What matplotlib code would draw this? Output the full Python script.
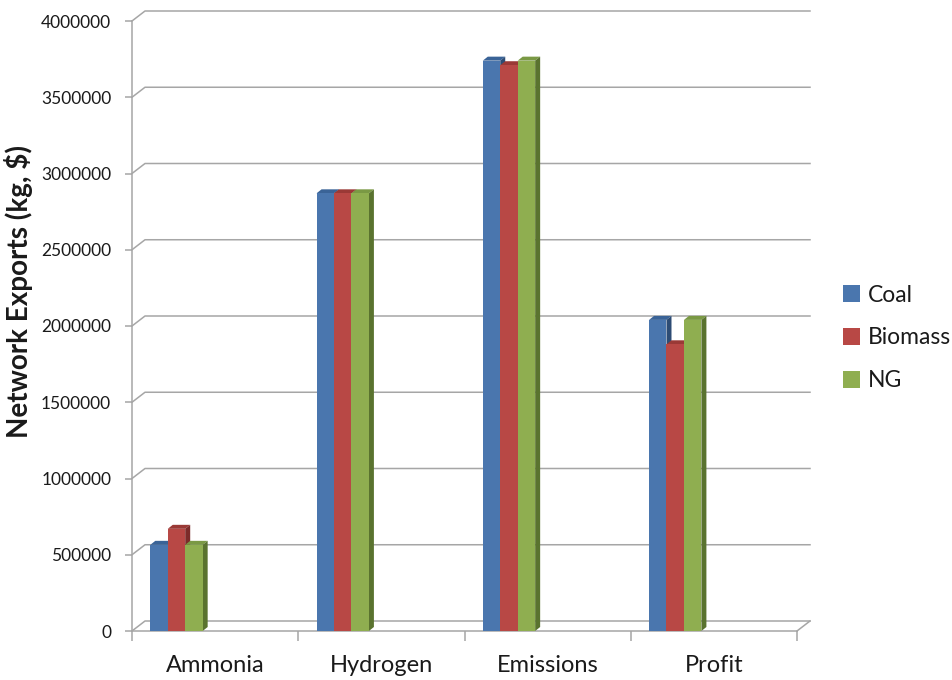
import matplotlib
matplotlib.use("Agg")
import matplotlib.pyplot as plt
from matplotlib.patches import Polygon

plt.rcParams['font.family'] = ['Lato', 'DejaVu Sans']

categories = ["Ammonia", "Hydrogen", "Emissions", "Profit"]
series_names = ["Coal", "Biomass", "NG"]
coal = [565000, 2870000, 3740000, 2040000]
biomass = [670000, 2870000, 3710000, 1880000]
ng = [565000, 2870000, 3740000, 2040000]
y_ticks = [0, 500000, 1000000, 1500000, 2000000, 2500000, 3000000, 3500000, 4000000]

front_cols = ["#4A76AE", "#B84845", "#8FAE50"]
top_cols = ["#3A6397", "#9A3936", "#7A9944"]
side_cols = ["#2D4C74", "#7C2B29", "#5A732F"]
grid_col = "#A6A6A6"

W, H = 953, 680
fig = plt.figure(figsize=(W / 100, H / 100), dpi=100)
x0, x1, y0, y1 = 132, 797, 631, 21
ax = fig.add_axes([x0 / W, (H - y0) / H, (x1 - x0) / W, (y0 - y1) / H])
ax.set_xlim(0, 4)
ax.set_ylim(0, 4000000)

# pixel -> data conversion for the oblique depth offsets
px_x = 4 / (x1 - x0)
px_y = 4000000 / (y0 - y1)
wall_dx, wall_dy = 13 * px_x, 10 * px_y
bar_dx, bar_dy = 5 * px_x, 4 * px_y

# back wall gridlines with diagonal side-wall connectors
for v in y_ticks:
    ax.plot([0, wall_dx, 4 + wall_dx], [v, v + wall_dy, v + wall_dy],
            color=grid_col, lw=1.1, clip_on=False, zorder=1)
# floor right edge
ax.plot([4, 4 + wall_dx], [0, wall_dy], color=grid_col, lw=1.1, clip_on=False, zorder=1)

# bars: front faces via ax.bar, then top and side faces
bar_w = 0.105
start = 0.11
for s, vals in enumerate([coal, biomass, ng]):
    xs = [i + start + s * bar_w for i in range(len(categories))]
    ax.bar(xs, vals, width=bar_w, align='edge', color=front_cols[s],
           edgecolor='none', zorder=3 + s, label=series_names[s])
    for xl, v in zip(xs, vals):
        xr = xl + bar_w
        top = Polygon([(xl, v), (xr, v), (xr + bar_dx, v + bar_dy), (xl + bar_dx, v + bar_dy)],
                      closed=True, facecolor=top_cols[s], edgecolor='none', zorder=2.9 + s)
        side = Polygon([(xr, 0), (xr + bar_dx, bar_dy), (xr + bar_dx, v + bar_dy), (xr, v)],
                       closed=True, facecolor=side_cols[s], edgecolor='none', zorder=2.9 + s)
        ax.add_patch(top)
        ax.add_patch(side)

# axes styling
for sp in ['top', 'right']:
    ax.spines[sp].set_visible(False)
for sp in ['left', 'bottom']:
    ax.spines[sp].set_color(grid_col)
    ax.spines[sp].set_linewidth(1.1)
    ax.spines[sp].set_zorder(2)

ax.set_yticks(y_ticks)
ax.set_yticklabels([str(v) for v in y_ticks])
ax.tick_params(axis='y', length=5, width=1.1, color=grid_col, pad=10,
               labelsize=12.5, labelcolor='#1a1a1a')

ax.set_xticks([0, 1, 2, 3, 4])
ax.set_xticklabels([])
ax.set_xticks([i + 0.5 for i in range(len(categories))], minor=True)
ax.set_xticklabels(categories, minor=True)
ax.tick_params(axis='x', which='major', length=7, width=1.1, color=grid_col)
ax.tick_params(axis='x', which='minor', length=0, pad=17, labelsize=17,
               labelcolor='#1a1a1a')

fig.text(19 / W, 1 - 292 / H, "Network Exports (kg, $)", rotation=90,
         ha='center', va='center', fontsize=20, fontweight='bold', color='#1a1a1a')

# legend
handles, labels = ax.get_legend_handles_labels()
leg = fig.legend(handles, labels, loc='center left', bbox_to_anchor=(843 / W, 1 - 338 / H),
                 frameon=False, fontsize=16.5, handlelength=0.75, handleheight=0.75,
                 handletextpad=0.35, labelspacing=0.95, labelcolor='#1a1a1a',
                 borderpad=0, borderaxespad=0)

fig.savefig("out.png", dpi=100)
